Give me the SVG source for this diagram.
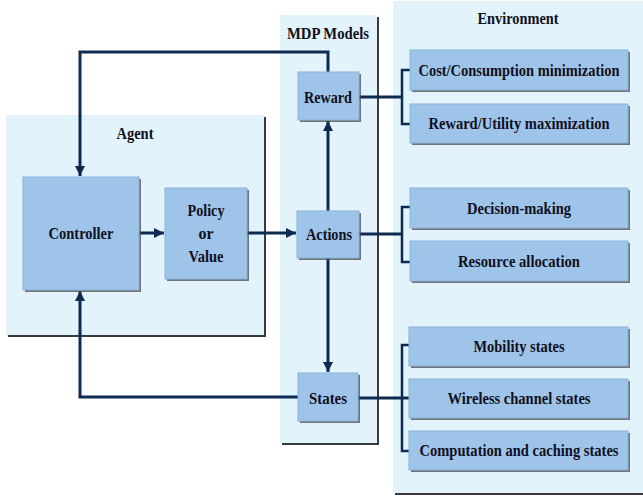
<svg xmlns="http://www.w3.org/2000/svg" width="643" height="500" viewBox="0 0 643 500">
<defs>
<marker id="ah" viewBox="0 0 10 10" refX="10" refY="5" markerWidth="10" markerHeight="10" markerUnits="userSpaceOnUse" orient="auto">
<path d="M0,0 L10,5 L0,10 Z" fill="#0d2a50"/>
</marker>
<style>
.panel{fill:#e2f3fc;}
.pshadow{fill:none;stroke:#3a3a3a;stroke-width:2;}
.box{fill:#9fc4ea;stroke:#8ab2da;stroke-width:1;}
.shadow{fill:#4a4a4a;opacity:0.75;}
.t{font-family:'Liberation Serif','DejaVu Serif',serif;font-weight:bold;font-size:16px;fill:#101020;text-anchor:middle;}
.c{fill:none;stroke:#0d2a50;stroke-width:3;}
.br{fill:none;stroke:#0d2a50;stroke-width:2.5;}
</style>
</defs>
<rect width="643" height="500" fill="#ffffff"/>

<g id="agent-panel">
<polyline class="pshadow" points="265,117 265,336 8,336"/>
<rect class="panel" x="6" y="115" width="258" height="220"/>
<text class="t" x="135" y="139" textLength="37" lengthAdjust="spacingAndGlyphs">Agent</text>
</g>
<g id="mdp-panel">
<polyline class="pshadow" points="378,17 378,444 282,444"/>
<rect class="panel" x="280" y="15" width="97" height="428"/>
<text class="t" x="328" y="39" textLength="82" lengthAdjust="spacingAndGlyphs">MDP Models</text>
</g>
<g id="env-panel">
<polyline class="pshadow" points="395,494 643,494"/>
<rect class="panel" x="393" y="1" width="250" height="492"/>
<text class="t" x="518" y="24" textLength="81" lengthAdjust="spacingAndGlyphs">Environment</text>
</g>

<g id="connectors">
<polyline class="c" points="328,72 328,52 80,52 80,176" marker-end="url(#ah)"/>
<line class="c" x1="139" y1="233" x2="164" y2="233" marker-end="url(#ah)"/>
<line class="c" x1="247" y1="233" x2="296" y2="233" marker-end="url(#ah)"/>
<line class="c" x1="328" y1="211" x2="328" y2="121" marker-end="url(#ah)"/>
<line class="c" x1="328" y1="258" x2="328" y2="372" marker-end="url(#ah)"/>
<polyline class="c" points="298,397 80,397 80,291" marker-end="url(#ah)"/>
<line class="c" x1="359" y1="97" x2="402" y2="97"/>
<polyline class="br" points="410,70 402,70 402,124 410,124"/>
<line class="c" x1="359" y1="234" x2="402" y2="234"/>
<polyline class="br" points="410,207 402,207 402,262 410,262"/>
<line class="c" x1="358" y1="398" x2="410" y2="398"/>
<polyline class="br" points="410,345 402,345 402,451 410,451"/>
</g>

<g id="controller">
<rect class="shadow" x="25" y="179" width="116" height="113"/>
<rect class="box" x="23" y="177" width="116" height="113"/>
<text class="t" x="81" y="239" textLength="65" lengthAdjust="spacingAndGlyphs">Controller</text>
</g>
<g id="policy">
<rect class="shadow" x="167" y="190" width="82" height="91"/>
<rect class="box" x="165" y="188" width="82" height="91"/>
<text class="t" x="206" y="216" textLength="37" lengthAdjust="spacingAndGlyphs">Policy</text>
<text class="t" x="206" y="239">or</text>
<text class="t" x="206" y="262" textLength="35" lengthAdjust="spacingAndGlyphs">Value</text>
</g>
<g id="reward">
<rect class="shadow" x="300" y="74" width="61" height="48"/>
<rect class="box" x="298" y="72" width="61" height="48"/>
<text class="t" x="328" y="103" textLength="48" lengthAdjust="spacingAndGlyphs">Reward</text>
</g>
<g id="actions">
<rect class="shadow" x="299" y="213" width="62" height="47"/>
<rect class="box" x="297" y="211" width="62" height="47"/>
<text class="t" x="329" y="240" textLength="46" lengthAdjust="spacingAndGlyphs">Actions</text>
</g>
<g id="states">
<rect class="shadow" x="300" y="375" width="60" height="48"/>
<rect class="box" x="298" y="373" width="60" height="48"/>
<text class="t" x="328" y="404" textLength="38" lengthAdjust="spacingAndGlyphs">States</text>
</g>

<g id="cost">
<rect class="shadow" x="412" y="52" width="218" height="40"/>
<rect class="box" x="410" y="50" width="218" height="40"/>
<text class="t" x="519" y="76" textLength="201" lengthAdjust="spacingAndGlyphs">Cost/Consumption minimization</text>
</g>
<g id="utility">
<rect class="shadow" x="412" y="106" width="218" height="39"/>
<rect class="box" x="410" y="104" width="218" height="39"/>
<text class="t" x="519" y="129" textLength="181" lengthAdjust="spacingAndGlyphs">Reward/Utility maximization</text>
</g>
<g id="decision">
<rect class="shadow" x="412" y="190" width="218" height="40"/>
<rect class="box" x="410" y="188" width="218" height="40"/>
<text class="t" x="519" y="214" textLength="104" lengthAdjust="spacingAndGlyphs">Decision-making</text>
</g>
<g id="resource">
<rect class="shadow" x="412" y="243" width="218" height="40"/>
<rect class="box" x="410" y="241" width="218" height="40"/>
<text class="t" x="519" y="267" textLength="122" lengthAdjust="spacingAndGlyphs">Resource allocation</text>
</g>
<g id="mobility">
<rect class="shadow" x="411" y="329" width="219" height="39"/>
<rect class="box" x="409" y="327" width="219" height="39"/>
<text class="t" x="519" y="352" textLength="91" lengthAdjust="spacingAndGlyphs">Mobility states</text>
</g>
<g id="wireless">
<rect class="shadow" x="411" y="381" width="219" height="39"/>
<rect class="box" x="409" y="379" width="219" height="39"/>
<text class="t" x="519" y="404" textLength="143" lengthAdjust="spacingAndGlyphs">Wireless channel states</text>
</g>
<g id="computation">
<rect class="shadow" x="411" y="433" width="219" height="39"/>
<rect class="box" x="409" y="431" width="219" height="39"/>
<text class="t" x="519" y="456" textLength="199" lengthAdjust="spacingAndGlyphs">Computation and caching states</text>
</g>
</svg>
